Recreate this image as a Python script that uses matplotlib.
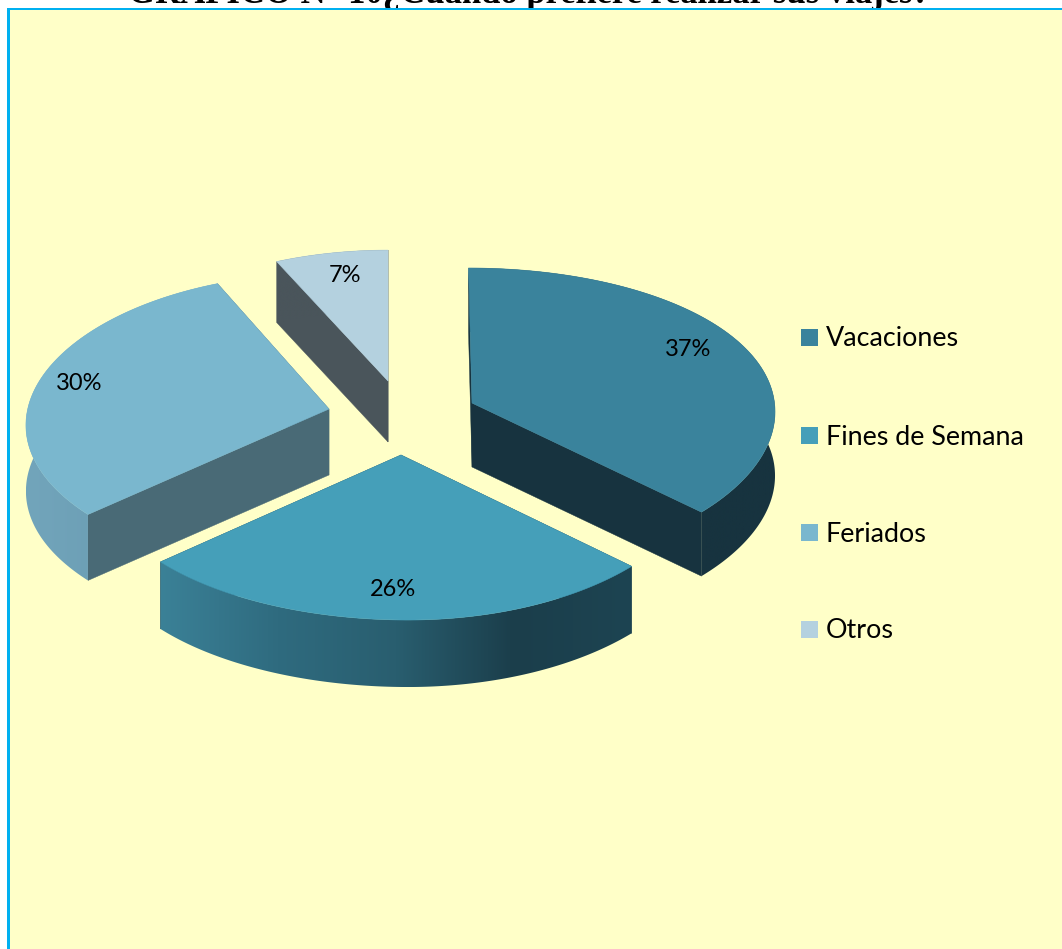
import numpy as np
import matplotlib
matplotlib.use("Agg")
import matplotlib.pyplot as plt
from matplotlib.patches import Polygon, Rectangle
from matplotlib.colors import to_rgb

categories = ["Vacaciones", "Fines de Semana", "Feriados", "Otros"]
values = [37, 26, 30, 7]
value_labels = ["37%", "26%", "30%", "7%"]
title = "GRÁFICO N° 10¿Cuándo prefiere realizar sus viajes?"

top_colors = ["#3A839C", "#459FB9", "#7AB7CE", "#B4D1DF"]
cut_colors = ["#17333F", "#1B3E4C", "#496A76", "#4A555B"]
wall_stops = [["#17333F", "#17333F"],
              ["#3B8197", "#2F6B7F", "#295E6F", "#1B3E4B", "#1D4452"],
              ["#72A5BB", "#6496AD"],
              ["#4A555B", "#4A555B"]]

# layout of each exploded slice, in pixels
apexes = [(472, 403), (401, 455), (329, 409), (388, 381)]
rim_cx = [468.5, 402.5, 330, 388]
rim_rx = [306, 301, 301, 298]
rim_ry = [148.5, 148.5, 148.5, 144]
tilt = [0, 3, 5, 0]
depths = [64, 67, 66, 61]
label_xy = [(688, 350), (393, 589), (79, 383), (345, 276)]
legend_y = [337.5, 435.5, 532.5, 629.5]

K, SKEW = 0.10, 13.0


def rim(theta, i):
    u, v = np.cos(theta), np.sin(theta)
    s = 1.0 / (1.0 + K * v)
    x = rim_cx[i] + rim_rx[i] * u * s + SKEW * v * np.abs(u)
    y = apexes[i][1] - rim_ry[i] * v * s + tilt[i] * u
    return x, y


fig = plt.figure(figsize=(10.62, 9.49), dpi=100, facecolor="white")
ax = fig.add_axes([0, 0, 1, 1])
ax.axis("off")

ax.text(528.5, 2.5, title, family="Liberation Serif", weight="bold", fontsize=24.9,
        ha="center", va="baseline", color="black", zorder=0)
ax.add_patch(Rectangle((8, 8), 1100, 1000, facecolor="#FFFFC8", edgecolor="none", zorder=1))
ax.add_patch(Rectangle((7, 7.8), 1100, 2.0, facecolor="#00B0F0", edgecolor="none", zorder=1.1))
ax.add_patch(Rectangle((7.2, 8), 2.8, 1000, facecolor="#00B0F0", edgecolor="none", zorder=1.1))

fractions = np.array(values, dtype=float) / sum(values)
edges = np.pi / 2 - 2 * np.pi * np.concatenate([[0], np.cumsum(fractions)])

for i in [3, 2, 0, 1]:
    a0, a1 = edges[i], edges[i + 1]
    apex = apexes[i]
    d = depths[i]
    th = np.linspace(a0, a1, 300)
    x, y = rim(th, i)
    # cut faces
    for j in [0, -1]:
        ax.add_patch(Polygon([apex, (x[j], y[j]), (x[j], y[j] + d), (apex[0], apex[1] + d)],
                             closed=True, facecolor=cut_colors[i], edgecolor=cut_colors[i],
                             linewidth=0.3, zorder=2))
    # outer wall: horizontal gradient clipped to the wall outline
    outline = np.column_stack([np.r_[x, x[::-1]], np.r_[y, y[::-1] + d]])
    clip = Polygon(outline, closed=True, transform=ax.transData, facecolor="none", edgecolor="none")
    ax.add_patch(clip)
    stops = np.array([to_rgb(c) for c in wall_stops[i]])
    pos = np.linspace(0, 1, len(stops))
    t = np.linspace(0, 1, 400)
    grad = np.stack([np.interp(t, pos, stops[:, k]) for k in range(3)], axis=-1)[None, :, :]
    im = ax.imshow(grad, extent=(x.min(), x.max(), y.max() + d, y.min()), aspect="auto",
                   interpolation="bilinear", zorder=2)
    im.set_clip_path(clip)
    # top face
    ax.add_patch(Polygon(np.column_stack([np.r_[apex[0], x], np.r_[apex[1], y]]), closed=True,
                         facecolor=top_colors[i], edgecolor=top_colors[i], linewidth=0.4, zorder=2))
    ax.text(*label_xy[i], value_labels[i], family="Lato", fontsize=17, ha="center", va="center",
            color="black", zorder=5)

for i, name in enumerate(categories):
    ax.add_patch(Rectangle((801, legend_y[i] - 8.5), 17, 17, facecolor=top_colors[i],
                           edgecolor="none", zorder=3))
    ax.text(826, legend_y[i] + 1.5, name, family="Lato", fontsize=19.4, ha="left", va="center",
            color="black", zorder=5)

ax.set_xlim(0, 1062)
ax.set_ylim(949, 0)
fig.savefig("out.png", dpi=100, facecolor="white")
